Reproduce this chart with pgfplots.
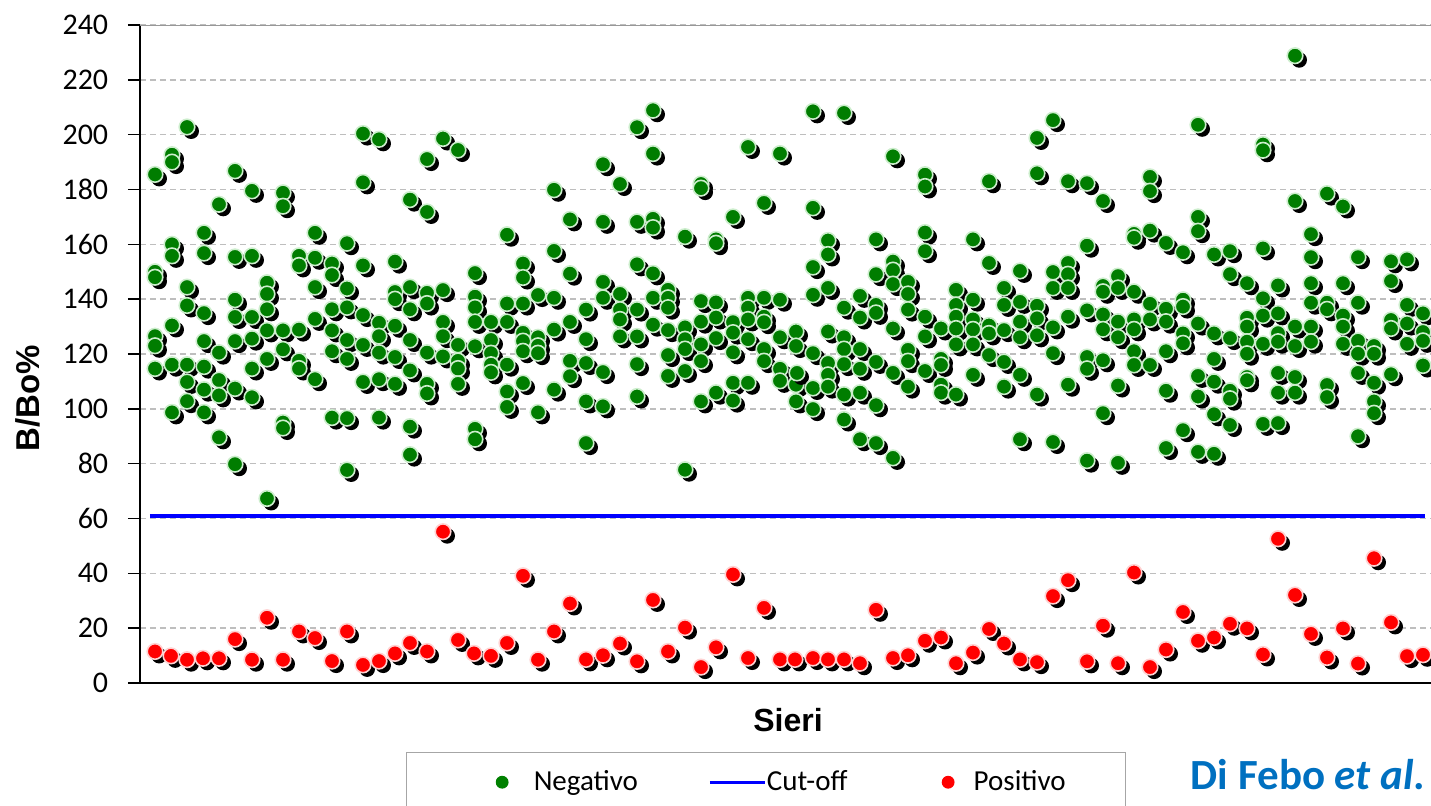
\documentclass[border=0pt]{standalone}
\usepackage{pgfplots}
\pgfplotsset{compat=1.18}
\usepackage{fontspec}
\setmainfont{Liberation Sans}
\newfontfamily\calib{Carlito}
\definecolor{gfill}{RGB}{0,125,0}
\definecolor{grim}{RGB}{205,238,205}
\definecolor{rfill}{RGB}{255,0,0}
\definecolor{rrim}{RGB}{255,210,210}
\definecolor{dfblue}{RGB}{0,112,192}
\definecolor{gridgray}{RGB}{190,190,190}
\definecolor{leggreen}{RGB}{0,128,0}
\pgfdeclareplotmark{gball}{%
  \pgfscope
  \pgfpathcircle{\pgfqpoint{2.1pt}{-2.1pt}}{\pgfplotmarksize}%
  \pgfsetfillcolor{black}\pgfusepath{fill}%
  \pgfpathcircle{\pgfpointorigin}{\pgfplotmarksize}%
  \pgfsetfillcolor{gfill}\pgfsetstrokecolor{grim}\pgfsetlinewidth{0.8pt}%
  \pgfusepath{fill,stroke}%
  \endpgfscope
}
\pgfdeclareplotmark{rball}{%
  \pgfscope
  \pgfpathcircle{\pgfqpoint{2.1pt}{-2.1pt}}{\pgfplotmarksize}%
  \pgfsetfillcolor{black}\pgfusepath{fill}%
  \pgfpathcircle{\pgfpointorigin}{\pgfplotmarksize}%
  \pgfsetfillcolor{rfill}\pgfsetstrokecolor{rrim}\pgfsetlinewidth{0.8pt}%
  \pgfusepath{fill,stroke}%
  \endpgfscope
}
\begin{document}
\begin{tikzpicture}
\useasboundingbox (-70pt,-61pt) rectangle (645.5pt,341.5pt);
\begin{axis}[
  at={(0pt,0pt)}, anchor=south west,
  scale only axis, width=645.5pt, height=329pt,
  xmin=140, xmax=1431, ymin=0, ymax=240,
  axis x line*=bottom, axis y line*=left,
  axis line style={black, line width=0.9pt},
  xtick=\empty,
  ytick={0,20,...,240},
  tick align=outside, major tick length=6pt,
  ytick style={black, line width=0.8pt},
  ymajorgrids=true,
  major grid style={gridgray, line width=0.7pt, dash pattern=on 3pt off 2pt},
  /pgf/number format/assume math mode=true,
  yticklabel style={font=\calib\fontsize{15}{16}\selectfont, text=black, inner sep=0pt, xshift=-9.7pt},
  xlabel={Sieri},
  xlabel style={at={(axis description cs:0.502,-0.0562)}, anchor=center, font=\bfseries\fontsize{16}{18}\selectfont},
  ylabel={B/Bo\%},
  ylabel style={at={(axis description cs:-0.0868,0.433)}, anchor=center, font=\bfseries\fontsize{16.5}{18}\selectfont},
  legend columns=3,
  legend cell align=left,
  legend style={at={(0.485,-0.105)}, anchor=north,
    draw=gray!70, line width=0.6pt,
    inner xsep=0pt, inner ysep=9pt,
    font=\calib\fontsize{14.5}{16}\selectfont,
    nodes={inner sep=0pt},
    column sep=0pt,
    /tikz/every even column/.style={column sep=0pt},
    cells={anchor=west}},
]
\addplot[only marks, mark=gball, mark size=3.9pt,
  legend image code/.code={\path (0pt,0pt) (63pt,0pt); \fill[leggreen] (47.5pt,0pt) circle[radius=2.9pt];}]
coordinates {
(155,185.5)(155,150)(155,148)(155,126.5)(155,123)(155,114.7)
(172,192.7)(172,190)(172,160)(172,155.8)(172,130.4)(172,116.1)(172,98.7)
(187,202.8)(187,144.4)(187,137.7)(187,116.1)(187,109.8)(187,102.8)
(204,164.2)(204,156.8)(204,134.9)(204,124.7)(204,115.4)(204,107)(204,98.7)
(219,174.6)(219,120.5)(219,110.5)(219,104.9)(219,89.6)
(235,186.8)(235,155.4)(235,139.8)(235,133.5)(235,124.7)(235,107.4)(235,79.8)
(252,179.5)(252,155.8)(252,133.5)(252,125.6)(252,114.7)(252,104.2)
(267,146)(267,141.9)(267,136.3)(267,128.6)(267,118.2)(267,67.3)
(283,178.8)(283,173.9)(283,128.6)(283,121.7)(283,95)(283,93)
(299,155.8)(299,152.3)(299,128.9)(299,117.5)(299,114.7)
(315,164.2)(315,155.1)(315,144.4)(315,132.8)(315,110.8)
(332,153)(332,148.8)(332,136.3)(332,128.6)(332,121)(332,96.8)
(347,160.4)(347,143.9)(347,137)(347,125.1)(347,118.2)(347,96.6)(347,77.7)
(363,200.4)(363,182.6)(363,152.3)(363,134.2)(363,123.3)(363,109.8)
(379,198.3)(379,131.4)(379,126.5)(379,120.5)(379,110.8)(379,96.8)
(395,153.7)(395,142.6)(395,140)(395,130.3)(395,118.9)(395,109.1)
(410,176.3)(410,144.4)(410,136.3)(410,125.1)(410,114)(410,93.5)(410,83.3)
(427,191.1)(427,171.8)(427,142.3)(427,138.4)(427,120.5)(427,109.1)(427,105.6)
(443,198.6)(443,143.3)(443,131.7)(443,126.5)(443,119.1)
(458,194.4)(458,123.3)(458,117.5)(458,114.7)(458,109.1)
(475,149.5)(475,140.9)(475,137)(475,131.7)(475,122.8)(475,92.7)(475,88.9)
(491,131.7)(491,125.1)(491,120.3)(491,116.1)(491,113.3)
(507,163.5)(507,138.4)(507,131.7)(507,116.1)(507,106.3)(507,100.7)
(523,153)(523,147.9)(523,138.4)(523,127.7)(523,124.7)(523,121)(523,109.4)
(538,141.5)(538,126.1)(538,123)(538,120.3)(538,98.7)
(554,179.9)(554,157.6)(554,140.5)(554,128.9)(554,107)
(570,169.1)(570,149.3)(570,131.7)(570,117.5)(570,111.9)
(586,136.2)(586,125.4)(586,116.7)(586,102.7)(586,87.5)
(603,189.2)(603,168.2)(603,146.3)(603,140.5)(603,113.4)(603,100.9)
(620,182)(620,141.9)(620,136.2)(620,132.6)(620,126.4)
(637,202.7)(637,168.2)(637,152.7)(637,136.2)(637,126.4)(637,116.3)(637,104.5)
(653,208.9)(653,193.1)(653,169.3)(653,166.1)(653,149.4)(653,140.5)(653,130.7)
(668,143.4)(668,140.5)(668,136.9)(668,128.7)(668,119.6)(668,112)
(685,162.8)(685,129.7)(685,125.4)(685,121.8)(685,113.8)(685,77.8)
(701,182)(701,180.5)(701,139.3)(701,131.8)(701,123.5)(701,117.4)(701,102.7)
(716,161.8)(716,160.4)(716,138.8)(716,133.3)(716,125.8)(716,105.9)
(733,170)(733,131.6)(733,127.8)(733,120.6)(733,109.5)(733,103)
(748,195.5)(748,140.5)(748,136.9)(748,132.6)(748,125.4)(748,109.5)
(764,175.1)(764,140.5)(764,133.6)(764,131.6)(764,121.8)(764,117.4)
(780,193.1)(780,139.8)(780,126.1)(780,114.6)(780,110.2)
(796,128.2)(796,122.9)(796,108.8)(796,102.7)
(797,113.1)
(813,208.5)(813,173.3)(813,151.7)(813,141.6)(813,120.3)(813,107.6)(813,99.9)
(828,161.4)(828,156.3)(828,144.1)(828,128.2)(828,116.7)(828,112.4)(828,108.1)
(844,207.9)(844,136.9)(844,126.1)(844,121.8)(844,116.3)(844,105.2)(844,96.1)
(860,141.2)(860,133.3)(860,121.8)(860,114.6)(860,105.9)(860,88.9)
(876,161.8)(876,149.1)(876,137.9)(876,135)(876,117.1)(876,101.3)(876,87.5)
(893,192.1)(893,153.7)(893,150.6)(893,145.5)(893,129.3)(893,113.1)(893,82.1)
(908,146.3)(908,141.9)(908,136.2)(908,121.5)(908,117.4)(908,108.1)
(925,185.4)(925,181.1)(925,164.3)(925,157.5)(925,133.6)(925,126.4)(925,113.8)
(941,129.3)(941,118.2)(941,116)(941,108.8)(941,105.9)
(956,143.4)(956,137.9)(956,133.6)(956,129.3)(956,123.5)(956,105.2)
(973,161.8)(973,139.8)(973,132.6)(973,129)(973,123.5)(973,112.4)
(989,183)(989,153.2)(989,130.4)(989,127.5)(989,119.6)
(1004,144.1)(1004,137.9)(1004,128.7)(1004,117.1)(1004,108.1)
(1020,150.3)(1020,139)(1020,131.8)(1020,126.1)(1020,112.4)(1020,88.9)
(1037,198.8)(1037,185.9)(1037,137.6)(1037,133)(1037,126.8)(1037,105.2)
(1053,205.3)(1053,149.9)(1053,144.1)(1053,129.7)(1053,120.3)(1053,87.9)
(1068,183)(1068,153.2)(1068,149.1)(1068,144.1)(1068,133.6)(1068,108.8)
(1087,182.3)(1087,159.5)(1087,135.9)(1087,118.9)(1087,114.6)(1087,81.1)
(1103,175.8)(1103,144.8)(1103,142.7)(1103,134.4)(1103,129)(1103,117.7)(1103,98.4)
(1118,148.4)(1118,144.1)(1118,131.8)(1118,126.1)(1118,108.5)(1118,80.3)
(1134,163.8)(1134,162.4)(1134,142.7)(1134,132.6)(1134,129)(1134,121)(1134,116)
(1150,184.6)(1150,179.4)(1150,165)(1150,138.3)(1150,132.6)(1150,116)
(1166,160.5)(1166,136.5)(1166,131.8)(1166,121)(1166,106.6)(1166,85.7)
(1183,157.1)(1183,139.8)(1183,137.3)(1183,127.5)(1183,123.9)(1183,92.2)
(1198,203.6)(1198,170)(1198,164.8)(1198,131.1)(1198,112)(1198,104.5)(1198,84.3)
(1214,156.3)(1214,127.5)(1214,118.2)(1214,109.9)(1214,98)(1214,83.6)
(1230,157.5)(1230,149.1)(1230,125.8)(1230,106.6)(1230,103.7)(1230,94.1)
(1247,145.8)(1247,133.2)(1247,130)(1247,124.5)(1247,120.1)(1247,111.6)(1247,110.4)
(1263,196.4)(1263,194.3)(1263,158.5)(1263,140.3)(1263,134)(1263,123.7)(1263,94.5)
(1278,145)(1278,134.8)(1278,127.6)(1278,124.5)(1278,113.1)(1278,105.9)(1278,94.8)
(1295,228.8)(1295,175.8)(1295,130)(1295,122.9)(1295,111.6)(1295,105.9)
(1311,163.7)(1311,155.3)(1311,145.8)(1311,138.7)(1311,130)(1311,124.5)
(1327,178.5)(1327,138.7)(1327,136.3)(1327,108.7)(1327,104.3)
(1343,173.8)(1343,145.8)(1343,134)(1343,130)(1343,123.7)
(1358,155.3)(1358,138.7)(1358,124.8)(1358,120.1)(1358,113.1)(1358,90)
(1374,122.9)(1374,120.1)(1374,109.5)(1374,102.7)(1374,98.4)
(1391,153.8)(1391,146.6)(1391,132.4)(1391,129.3)(1391,112.6)
(1407,154.5)(1407,137.9)(1407,131.1)(1407,123.7)
(1423,134.8)(1423,128)(1423,124.8)(1423,115.8)
};
\addlegendentry{Negativo}
\addplot[blue, line width=2pt,
  legend image code/.code={\path (0pt,0pt) (62.5pt,0pt); \draw[blue, line width=1.5pt] (35pt,0pt) -- (62.5pt,0pt);}]
coordinates {(150,61) (1425,61)};
\addlegendentry{Cut-off}
\addplot[only marks, mark=rball, mark size=3.9pt,
  legend image code/.code={\path (0pt,0pt) (62.5pt,0pt); \fill[red] (50pt,0pt) circle[radius=2.9pt];}]
coordinates {
(155,11.5)(171,9.9)(187,8.5)(203,9.0)(219,9.0)(235,16.0)(252,8.5)(267,23.8)
(283,8.5)(299,18.8)(315,16.4)(332,8.0)(347,18.8)(363,6.6)(379,8.0)(395,10.8)
(410,14.6)(427,11.5)(443,55.2)(458,15.7)(474,10.8)(491,9.9)(507,14.6)(523,39.1)
(538,8.5)(554,18.8)(570,29.0)(586,8.6)(603,10.1)(620,14.4)(637,7.9)(653,30.3)
(668,11.5)(685,20.2)(701,5.8)(716,13)(733,39.6)(748,9.1)(764,27.4)(780,8.6)
(795,8.6)(813,9.1)(828,8.6)(844,8.6)(860,7.2)(876,26.7)(893,9.1)(908,10.1)
(925,15.4)(941,16.6)(956,7.2)(973,11.1)(989,19.7)(1004,14.4)(1020,8.6)(1037,7.6)
(1053,31.7)(1068,37.5)(1087,7.9)(1103,20.9)(1118,7.2)(1134,40.3)(1150,5.8)(1166,12.2)
(1183,25.9)(1198,15.4)(1214,16.6)(1230,21.6)(1247,19.9)(1263,10.4)(1278,52.6)(1295,32.1)
(1311,17.9)(1327,9.3)(1343,19.9)(1358,7.1)(1374,45.5)(1391,22.1)(1407,9.8)(1423,10.3)
};
\addlegendentry{Positivo\hspace*{30pt}}
\draw[gridgray!80!black, line width=0.6pt] (rel axis cs:0,1) -- (rel axis cs:1,1);
\end{axis}
\node[font=\calib\bfseries\fontsize{21.5}{24}\selectfont, text=dfblue] at (584pt,-46pt) {Di Febo \textit{et al}.};
\end{tikzpicture}
\end{document}
